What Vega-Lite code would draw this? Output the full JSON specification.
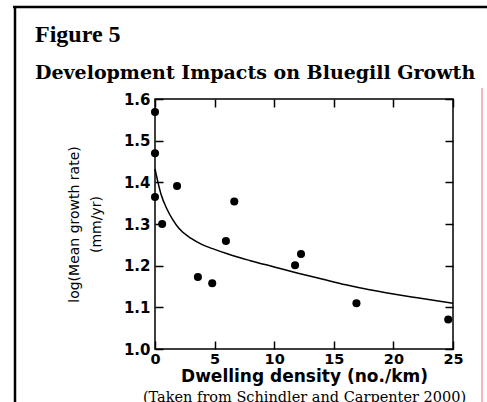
{
  "$schema": "https://vega.github.io/schema/vega-lite/v6.json",
  "width": 298,
  "height": 250,
  "autosize": {"type": "none"},
  "padding": {"left": 155, "top": 99, "right": 34, "bottom": 53},
  "background": "white",
  "datasets": {
    "obs": [
      {"density": 0, "growth": 1.569},
      {"density": 0, "growth": 1.470},
      {"density": 0, "growth": 1.365},
      {"density": 0.6, "growth": 1.300},
      {"density": 1.85, "growth": 1.391},
      {"density": 3.6, "growth": 1.173},
      {"density": 4.8, "growth": 1.158},
      {"density": 5.95, "growth": 1.259},
      {"density": 6.65, "growth": 1.354},
      {"density": 11.75, "growth": 1.201},
      {"density": 12.25, "growth": 1.228},
      {"density": 16.9, "growth": 1.110},
      {"density": 24.6, "growth": 1.071}
    ],
    "fit": [
      {"density": 0, "growth": 1.432},
      {"density": 0.25, "growth": 1.400},
      {"density": 0.5, "growth": 1.372},
      {"density": 1, "growth": 1.336},
      {"density": 1.5, "growth": 1.310},
      {"density": 2, "growth": 1.290},
      {"density": 3, "growth": 1.266},
      {"density": 4, "growth": 1.250},
      {"density": 5, "growth": 1.239},
      {"density": 6, "growth": 1.229},
      {"density": 7, "growth": 1.220},
      {"density": 8, "growth": 1.212},
      {"density": 10, "growth": 1.197},
      {"density": 12, "growth": 1.182},
      {"density": 14, "growth": 1.168},
      {"density": 16, "growth": 1.154},
      {"density": 18, "growth": 1.142},
      {"density": 20, "growth": 1.132},
      {"density": 22, "growth": 1.123},
      {"density": 25, "growth": 1.110}
    ]
  },
  "title": {
    "text": "Figure 5",
    "subtitle": "Development Impacts on Bluegill Growth",
    "anchor": "start",
    "frame": "group",
    "dx": -120,
    "dy": 90,
    "offset": 12,
    "font": "Liberation Serif",
    "fontSize": 24,
    "fontWeight": "bold",
    "color": "black",
    "subtitleFont": "DejaVu Serif",
    "subtitleFontSize": 19,
    "subtitleFontWeight": "bold",
    "subtitleColor": "black",
    "subtitlePadding": 17
  },
  "config": {
    "view": {"stroke": "black", "strokeWidth": 1.5},
    "axis": {
      "grid": false,
      "domain": false,
      "tickColor": "black",
      "tickWidth": 1.5,
      "tickSize": -8,
      "labelColor": "black",
      "titleColor": "black",
      "labelFlush": false
    }
  },
  "resolve": {"axis": {"x": "independent", "y": "independent"}},
  "layer": [
    {
      "data": {"name": "fit"},
      "mark": {"type": "line", "color": "black", "strokeWidth": 1.5, "interpolate": "monotone"},
      "encoding": {
        "x": {
          "field": "density", "type": "quantitative",
          "scale": {"domain": [0, 25], "nice": false},
          "axis": {"orient": "top", "labels": false, "title": null, "values": [0, 5, 10, 15, 20, 25]}
        },
        "y": {
          "field": "growth", "type": "quantitative",
          "scale": {"domain": [1, 1.6], "nice": false, "zero": false},
          "axis": {"orient": "right", "labels": false, "title": null, "values": [1, 1.1, 1.2, 1.3, 1.4, 1.5, 1.6]}
        }
      }
    },
    {
      "data": {"name": "obs"},
      "mark": {"type": "circle", "color": "black", "size": 65, "opacity": 1},
      "encoding": {
        "x": {
          "field": "density", "type": "quantitative",
          "axis": {
            "orient": "bottom",
            "values": [0, 5, 10, 15, 20, 25],
            "labelFont": "DejaVu Sans", "labelFontSize": 14.5, "labelFontWeight": "bold",
            "labelPadding": 11,
            "title": "Dwelling density (no./km)",
            "titleFont": "DejaVu Sans", "titleFontSize": 17, "titleFontWeight": "bold",
            "titlePadding": 3
          }
        },
        "y": {
          "field": "growth", "type": "quantitative",
          "axis": {
            "orient": "left",
            "values": [1, 1.1, 1.2, 1.3, 1.4, 1.5, 1.6],
            "format": ".1f",
            "labelFont": "DejaVu Sans", "labelFontSize": 15, "labelFontWeight": "bold",
            "labelPadding": 13,
            "title": ["log(Mean growth rate)", "(mm/yr)"],
            "titleFont": "DejaVu Sans", "titleFontSize": 14, "titleFontWeight": "normal",
            "titleLineHeight": 22,
            "titlePadding": 20
          }
        }
      }
    },
    {
      "data": {"name": "obs"},
      "mark": {"type": "point", "opacity": 0},
      "encoding": {
        "x": {
          "field": "density", "type": "quantitative",
          "axis": {
            "orient": "bottom", "labels": false, "ticks": false, "domain": false,
            "title": "(Taken from Schindler and Carpenter 2000)",
            "titleFont": "DejaVu Serif", "titleFontSize": 14.5, "titleFontWeight": "normal",
            "titlePadding": 41
          }
        },
        "y": {"field": "growth", "type": "quantitative", "axis": null}
      }
    },
    {
      "data": {"values": [{}]},
      "mark": {"type": "rule", "color": "black", "strokeWidth": 2.5},
      "encoding": {"x": {"value": -140}, "y": {"value": -93}, "y2": {"value": 310}}
    },
    {
      "data": {"values": [{}]},
      "mark": {"type": "rule", "color": "black", "strokeWidth": 2.5},
      "encoding": {"x": {"value": -142}, "x2": {"value": 340}, "y": {"value": -92}}
    },
    {
      "data": {"values": [{}]},
      "mark": {"type": "rule", "color": "#f08a8a", "strokeWidth": 1.2},
      "encoding": {"x": {"value": 327}, "y": {"value": -11}, "y2": {"value": 310}}
    }
  ]
}
